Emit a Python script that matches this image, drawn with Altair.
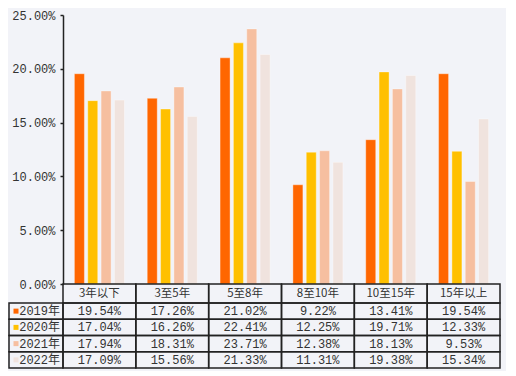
import altair as alt
import pandas as pd

cats = ["3年以下", "3至5年", "5至8年", "8至10年", "10至15年", "15年以上"]
years = ["2019年", "2020年", "2021年", "2022年"]
v2019 = [19.54, 17.26, 21.02, 9.22, 13.41, 19.54]
v2020 = [17.04, 16.26, 22.41, 12.25, 19.71, 12.33]
v2021 = [17.94, 18.31, 23.71, 12.38, 18.13, 9.53]
v2022 = [17.09, 15.56, 21.33, 11.31, 19.38, 15.34]
colors = ["#FF6600", "#FFC000", "#F6BFA0", "#F0E3DE"]

rows = []
for yr, vals in zip(years, [v2019, v2020, v2021, v2022]):
    for c, v in zip(cats, vals):
        rows.append({"cat": c, "year": yr, "value": v / 100, "label": f"{v:.2f}%"})
df = pd.DataFrame(rows)
hdr = pd.DataFrame({"cat": cats, "row": ["hdr"] * len(cats)})
lab = pd.DataFrame({"year": years})

W = 437
FONT = "Liberation Mono, Noto Sans CJK SC"
color = alt.Color("year:N", sort=years, scale=alt.Scale(domain=years, range=colors), legend=None)

bars = alt.Chart(df).mark_bar(stroke="white", strokeWidth=0.6, strokeOpacity=0.6).encode(
    x=alt.X("cat:N", sort=cats, axis=None,
            scale=alt.Scale(paddingInner=0.313, paddingOuter=0.1565)),
    xOffset=alt.XOffset("year:N", sort=years, scale=alt.Scale(paddingInner=0.25, paddingOuter=0)),
    y=alt.Y("value:Q", scale=alt.Scale(domain=[0, 0.25], nice=False),
            axis=alt.Axis(format=".2%", tickCount=5, title=None, grid=False, labelFlush=False,
                          labelPadding=5, tickSize=3)),
    color=color,
).properties(width=W, height=269)

xt = alt.X("cat:N", sort=cats, axis=None, scale=alt.Scale(paddingInner=0, paddingOuter=0))
header = alt.layer(
    alt.Chart(hdr).mark_rect(fill="transparent", stroke="#222", strokeWidth=1.5).encode(
        x=xt, y=alt.Y("row:N", axis=None)),
    alt.Chart(hdr).mark_text(font="Noto Sans CJK SC", fontSize=11.5, color="#333").encode(
        x=xt, y=alt.Y("row:N", axis=None), text="cat:N"),
).properties(width=W, height=19)

yb = alt.Y("year:N", sort=years, axis=None, scale=alt.Scale(paddingInner=0, paddingOuter=0))
body = alt.layer(
    alt.Chart(df).mark_rect(fill="transparent", stroke="#222", strokeWidth=1.5).encode(x=xt, y=yb),
    alt.Chart(df).mark_text(font=FONT, fontSize=12, color="#333").encode(x=xt, y=yb, text="label:N"),
    alt.Chart(lab).mark_rect(fill="transparent", stroke="#222", strokeWidth=1.5).encode(
        x=alt.value(-54), x2=alt.value(0), y=yb),
    alt.Chart(lab).mark_square(size=25, opacity=1).encode(x=alt.value(-47), y=yb, color=color),
    alt.Chart(lab).mark_text(font=FONT, fontSize=12, color="#333", align="right").encode(
        x=alt.value(-3), y=yb, text="year:N"),
).properties(width=W, height=65)

chart = alt.vconcat(bars, header, body, spacing=0, bounds="flush").resolve_scale(
    x="independent", y="independent"
).properties(
    padding={"left": 0, "top": 1, "right": 5, "bottom": 2},
    background="#F2F3F8",
).configure_view(strokeWidth=0).configure_axis(
    labelFont=FONT, labelFontSize=12, labelColor="#333",
    domainColor="#222", domainWidth=1.5, tickColor="#222", tickWidth=1.5,
)

chart.save("out.html", embed_options={"renderer": "svg", "actions": False})
